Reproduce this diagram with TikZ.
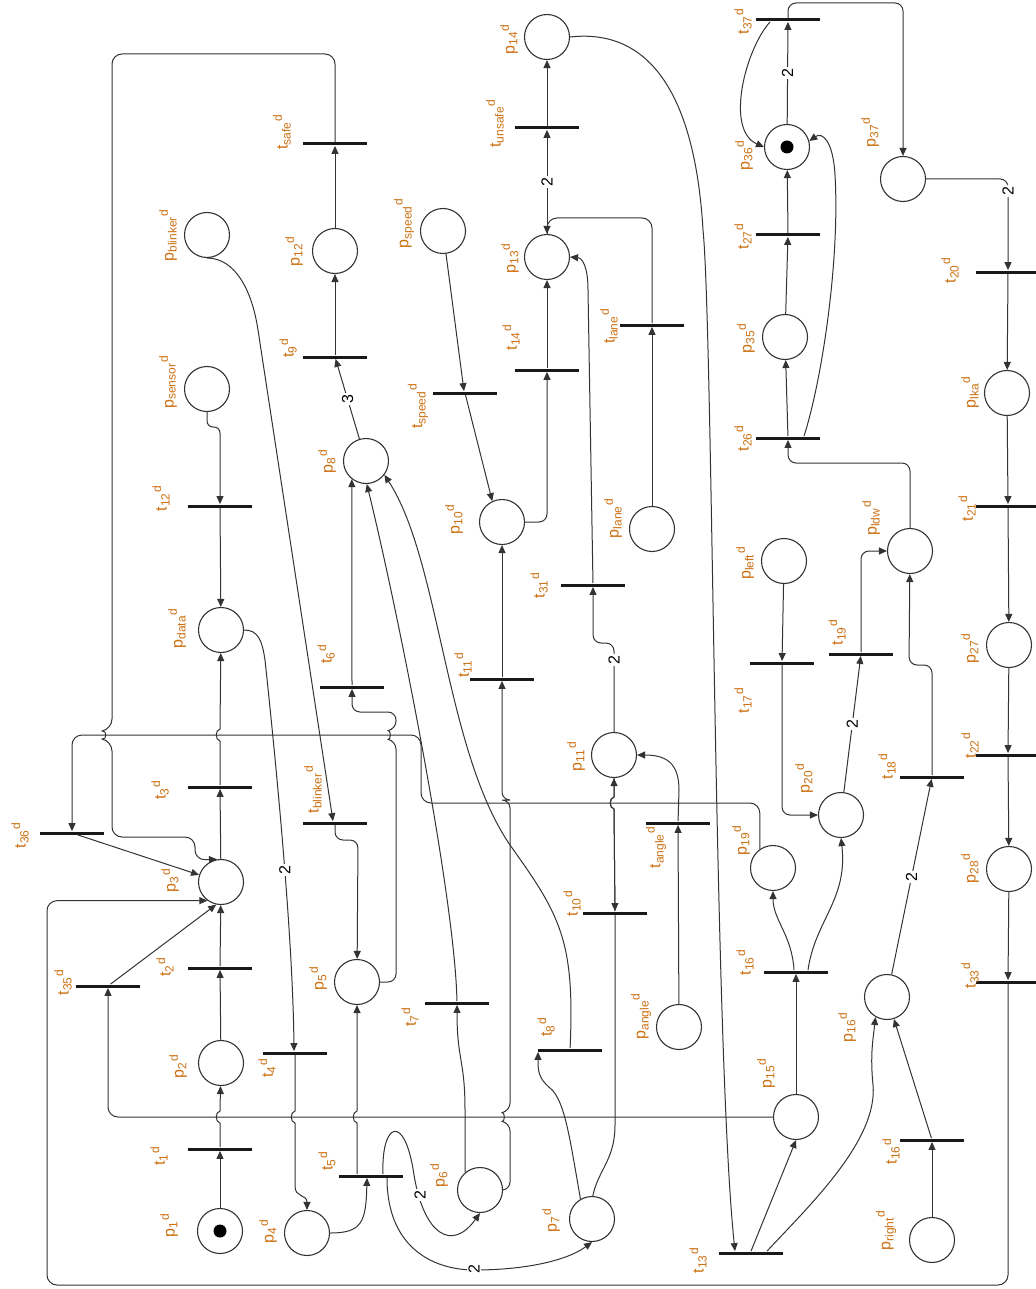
\documentclass[tikz,border=0pt]{standalone}
\usepackage{fontspec}
\setmainfont{Liberation Sans}
\usepackage{xcolor}
\usetikzlibrary{arrows.meta,positioning}
\definecolor{lblorange}{RGB}{204,112,18}
\newcommand{\pdl}[1]{p\textsubscript{#1}\textsuperscript{d}}
\newcommand{\tdl}[1]{t\textsubscript{#1}\textsuperscript{d}}

\begin{document}
\begin{tikzpicture}[x=0.5pt, y=-0.5pt,
	place/.style={circle, draw=black!80, line width=0.55pt, minimum size=22.5pt, inner sep=0pt},
	dot/.style={circle, fill=black, minimum size=6.5pt, inner sep=0pt},
	trans/.style={rectangle, fill=black!90, minimum width=32pt, minimum height=1.5pt, inner sep=0pt},
	lbl/.style={rotate=90, text=lblorange, inner sep=0pt, font=\fontsize{8}{9}\selectfont},
	wt/.style={rotate=90, fill=white, inner sep=0.8pt, font=\fontsize{8}{9}\selectfont},
	flow/.style={-{Triangle[length=4pt,width=3.5pt]}, line width=0.5pt, draw=black!80},
	plain/.style={line width=0.5pt, draw=black!80}
]
	\useasboundingbox (0,0) rectangle (1036,1289);

	% Places
	\node[place] (p1)       at (220,1231) {};
	\node[dot]   (tok1)     at (p1) {};
	\node[place] (p2)       at (221,1063) {};
	\node[place] (p3)       at (221,882)  {};
	\node[place] (pdata)    at (221,630)  {};
	\node[place] (psensor)  at (207,389)  {};
	\node[place] (pblinker) at (207,235)  {};
	\node[place] (p12)      at (335,251)  {};
	\node[place] (p8)       at (366,461)  {};
	\node[place] (p4)       at (307,1233) {};
	\node[place] (p5)       at (357,982)  {};
	\node[place] (p6)       at (480,1190) {};
	\node[place] (p7)       at (592,1219) {};
	\node[place] (p10)      at (502,522)  {};
	\node[place] (p13)      at (547,257)  {};
	\node[place] (p14)      at (547,37)   {};
	\node[place] (pspeed)   at (443,231)  {};
	\node[place] (plane)    at (652,529)  {};
	\node[place] (p11)      at (614,755)  {};
	\node[place] (pangle)   at (679,1027) {};
	\node[place] (p36)      at (787,147)  {};
	\node[dot]   (tok36)    at (p36) {};
	\node[place] (p35)      at (785,337)  {};
	\node[place] (pleft)    at (784,561)  {};
	\node[place] (pldw)     at (910,551)  {};
	\node[place] (p20)      at (841,815)  {};
	\node[place] (p19)      at (773,868)  {};
	\node[place] (p15)      at (796,1117) {};
	\node[place] (p16)      at (887,997)  {};
	\node[place] (pright)   at (932,1240) {};
	\node[place] (p37)      at (903,179)  {};
	\node[place] (plka)     at (1007,393) {};
	\node[place] (p27)      at (1009,645) {};
	\node[place] (p28)      at (1009,869) {};

	% Transitions
	\node[trans] (t1)       at (220,1149) {};
	\node[trans] (t2)       at (220,968)  {};
	\node[trans] (t3)       at (220,787)  {};
	\node[trans] (t12)      at (220,506)  {};
	\node[trans] (tsafe)    at (335,144)  {};
	\node[trans] (t9)       at (335,357)  {};
	\node[trans] (t4)       at (295,1053) {};
	\node[trans] (t5)       at (371,1176) {};
	\node[trans] (t6)       at (352,687)  {};
	\node[trans] (t7)       at (457,1003) {};
	\node[trans] (t8)       at (570,1050) {};
	\node[trans] (t10)      at (615,913)  {};
	\node[trans] (t11)      at (502,679)  {};
	\node[trans] (t14)      at (547,370)  {};
	\node[trans] (tspeed)   at (465,393)  {};
	\node[trans] (tlane)    at (652,325)  {};
	\node[trans] (tunsafe)  at (547,128)  {};
	\node[trans] (t31)      at (593,585)  {};
	\node[trans] (t13)      at (751,1253) {};
	\node[trans] (t16a)     at (796,972)  {};
	\node[trans] (t16b)     at (932,1140) {};
	\node[trans] (t17)      at (782,663)  {};
	\node[trans] (t19)      at (861,654)  {};
	\node[trans] (t18)      at (932,777)  {};
	\node[trans] (t26)      at (788,438)  {};
	\node[trans] (t27)      at (788,235)  {};
	\node[trans] (t37)      at (788,20)   {};
	\node[trans] (t20)      at (1008,272) {};
	\node[trans] (t21)      at (1008,506) {};
	\node[trans] (t22)      at (1008,755) {};
	\node[trans] (t33)      at (1008,982) {};
	\node[trans] (t35)      at (108,986)  {};
	\node[trans] (t36)      at (72,833)   {};
	\node[trans] (tblinker) at (335,823)  {};
	\node[trans] (tangle)   at (678,823)  {};

	% Labels of places
	\node[lbl] (lp1)       at (169,1225) {\pdl{1}};
	\node[lbl] (lp2)       at (178,1066) {\pdl{2}};
	\node[lbl] (lp3)       at (170,880)  {\pdl{3}};
	\node[lbl] (lpdata)    at (177,628)  {\pdl{data}};
	\node[lbl] (lpsensor)  at (168,382)  {\pdl{sensor}};
	\node[lbl] (lpblinker) at (168,235)  {\pdl{blinker}};
	\node[lbl] (lp12)      at (294,251)  {\pdl{12}};
	\node[lbl] (lp8)       at (327,461)  {\pdl{8}};
	\node[lbl] (lp4)       at (268,1231) {\pdl{4}};
	\node[lbl] (lp5)       at (318,978)  {\pdl{5}};
	\node[lbl] (lp6)       at (439,1175) {\pdl{6}};
	\node[lbl] (lp7)       at (551,1220) {\pdl{7}};
	\node[lbl] (lp10)      at (454,519)  {\pdl{10}};
	\node[lbl] (lp13)      at (510,258)  {\pdl{13}};
	\node[lbl] (lp14)      at (509,39)   {\pdl{14}};
	\node[lbl] (lpspeed)   at (404,223)  {\pdl{speed}};
	\node[lbl] (lplane)    at (613,518)  {\pdl{lane}};
	\node[lbl] (lp11)      at (576,756)  {\pdl{11}};
	\node[lbl] (lpangle)   at (641,1016) {\pdl{angle}};
	\node[lbl] (lp36)      at (744,155)  {\pdl{36}};
	\node[lbl] (lp35)      at (746,338)  {\pdl{35}};
	\node[lbl] (lpleft)    at (745,563)  {\pdl{left}};
	\node[lbl] (lpldw)     at (871,518)  {\pdl{ldw}};
	\node[lbl] (lp20)      at (804,778)  {\pdl{20}};
	\node[lbl] (lp19)      at (741,840)  {\pdl{19}};
	\node[lbl] (lp15)      at (766,1073) {\pdl{15}};
	\node[lbl] (lp16)      at (847,1027) {\pdl{16}};
	\node[lbl] (lpright)   at (886,1230) {\pdl{right}};
	\node[lbl] (lp37)      at (870,132)  {\pdl{37}};
	\node[lbl] (lplka)     at (970,392)  {\pdl{lka}};
	\node[lbl] (lp27)      at (970,648)  {\pdl{27}};
	\node[lbl] (lp28)      at (970,868)  {\pdl{28}};

	% Labels of transitions
	\node[lbl] (lt1)       at (159,1156) {\tdl{1}};
	\node[lbl] (lt2)       at (165,967)  {\tdl{2}};
	\node[lbl] (lt3)       at (160,790)  {\tdl{3}};
	\node[lbl] (lt12)      at (161,498)  {\tdl{12}};
	\node[lbl] (ltsafe)    at (282,132)  {\tdl{safe}};
	\node[lbl] (lt9)       at (288,348)  {\tdl{9}};
	\node[lbl] (lt4)       at (267,1068) {\tdl{4}};
	\node[lbl] (lt5)       at (327,1161) {\tdl{5}};
	\node[lbl] (lt6)       at (326,654)  {\tdl{6}};
	\node[lbl] (lt7)       at (410,1017) {\tdl{7}};
	\node[lbl] (lt8)       at (546,1027) {\tdl{8}};
	\node[lbl] (lt10)      at (572,903)  {\tdl{10}};
	\node[lbl] (lt11)      at (463,665)  {\tdl{11}};
	\node[lbl] (lt14)      at (511,337)  {\tdl{14}};
	\node[lbl] (ltspeed)   at (418,406)  {\tdl{speed}};
	\node[lbl] (ltlane)    at (609,326)  {\tdl{lane}};
	\node[lbl] (ltunsafe)  at (495,123)  {\tdl{unsafe}};
	\node[lbl] (lt31)      at (539,585)  {\tdl{31}};
	\node[lbl] (lt13)      at (698,1260) {\tdl{13}};
	\node[lbl] (lt16a)     at (745,962)  {\tdl{16}};
	\node[lbl] (lt16b)     at (891,1151) {\tdl{16}};
	\node[lbl] (lt17)      at (743,700)  {\tdl{17}};
	\node[lbl] (lt19)      at (837,632)  {\tdl{19}};
	\node[lbl] (lt18)      at (887,766)  {\tdl{18}};
	\node[lbl] (lt26)      at (743,438)  {\tdl{26}};
	\node[lbl] (lt27)      at (743,236)  {\tdl{27}};
	\node[lbl] (lt37)      at (743,21)   {\tdl{37}};
	\node[lbl] (lt20)      at (950,270)  {\tdl{20}};
	\node[lbl] (lt21)      at (967,508)  {\tdl{21}};
	\node[lbl] (lt22)      at (970,745)  {\tdl{22}};
	\node[lbl] (lt33)      at (970,975)  {\tdl{33}};
	\node[lbl] (lt35)      at (63,982)   {\tdl{35}};
	\node[lbl] (lt36)      at (20,835)   {\tdl{36}};
	\node[lbl] (ltblinker) at (313,789)  {\tdl{blinker}};
	\node[lbl] (ltangle)   at (656,847)  {\tdl{angle}};

	% Left column
	\draw[flow] (p1) -- (t1);
	\draw[flow] (t1) -- (220,1123) .. controls (215,1122) and (215,1112) .. (220,1111) -- (p2);
	\draw[flow] (p2) -- (t2);
	\draw[flow] (t2) -- (p3);
	\draw[flow] (p3) -- (t3);
	\draw[flow] (t3) -- (220,741) .. controls (215,740) and (215,730) .. (220,729) -- (pdata);
	\draw[flow, rounded corners=3pt] (psensor.south) |- (220,427) -- (t12);
	\draw[flow] (t12) -- (pdata);
	\draw[flow] (pblinker.south) .. controls (235,258) and (252,290) .. (258,330) -- ([xshift=-1pt]tblinker.north);
	\draw[flow, rounded corners=4pt] (tblinker) |- (358,840) -- (p5);
	\draw[flow] (p12) -- (tsafe);
	\draw[flow, rounded corners=5pt] (tsafe) |- (112,54) -- (112,729)
		.. controls (107,730) and (107,740) .. (112,741) -- (112,837) -| (195,860) -- (p3.100);
	\draw[flow] (t9) -- (p12);
	\draw[flow] (p8) -- node[wt] {3} (t9);
	\draw[flow] (pdata.east) .. controls (258,630) and (262,640) .. (265,660)
		.. controls (280,800) and (293,950) .. node[wt, pos=0.5] {2} ([xshift=-0.5pt]t4.north);
	\draw[flow] (t4) -- (295,1111) .. controls (290,1112) and (290,1122) .. (295,1123)
		-- (295,1186) .. controls (295,1198) and (307,1194) .. (p4.north);

	% Around t5
	\draw[flow] (p4.east) .. controls (362,1233) and (366,1222) .. ([xshift=-2pt]t5.south);
	\draw[flow] ([xshift=-7pt]t5.north) -- (357,1123) .. controls (352,1122) and (352,1112) .. (357,1111) -- (p5);
	\draw[flow] ([xshift=6pt]t5.north) .. controls (381,1122) and (405,1112) .. (414,1175)
		.. controls (424,1235) and (452,1252) .. (p6.south) node[wt] at (420,1195) {2};
	\draw[flow] ([xshift=8pt]t5.south) .. controls (387,1245) and (430,1270) .. (475,1270)
		.. controls (520,1270) and (565,1262) .. (p7.south) node[wt] at (474,1269) {2};

	% Into p8
	\draw[flow, rounded corners=4pt] (p5.east) -| (396,741)
		.. controls (391,740) and (391,730) .. (396,729) -- (396,712) -| (t6);
	\draw[flow] (t6) -- (p8.232);
	\draw[flow] (p6.130) -- (465,1110) .. controls (465,1060) and (457,1060) .. (t7);
	\draw[flow] (t7) .. controls (455,900) and (400,620) .. (p8.-88);
	\draw[flow] (p7.120) .. controls (570,1140) and (565,1100) .. (550,1088)
		.. controls (538,1078) and (538,1070) .. ([xshift=-16pt]t8.south);
	\draw[flow] (t8) .. controls (575,940) and (560,915) .. (510,845)
		.. controls (445,750) and (440,560) .. (p8.-37);

	% p10, p11, p13
	\draw[flow, rounded corners=4pt] (p6.east) -| (510,1123)
		.. controls (505,1122) and (505,1112) .. (510,1111) -- (510,800) -| (t11);
	\draw[flow] (t11) -- (p10);
	\draw[flow] (pspeed) -- ([xshift=-0.5pt]tspeed.north);
	\draw[flow] (tspeed) -- (p10.115);
	\draw[flow, rounded corners=4pt] (p10.east) -| (t14);
	\draw[flow] (t14) -- (p13);
	\draw[flow] (plane) -- (tlane);
	\draw[flow, rounded corners=5pt] (tlane) |- (547,218) -- (p13);
	\draw[plain] (p7.88) .. controls (598,1170) and (615,1160) .. (615,1125) -- (t10);
	\draw[flow] (p11) -- (614,797) .. controls (609,798) and (609,808) .. (614,809) -- (t10);
	\draw[flow] (t10) -- (614,809) .. controls (609,808) and (609,798) .. (614,797) -- (p11);
	\draw[flow] (pangle) -- (tangle);
	\draw[flow] (tangle) -- (679,790) .. controls (679,762) and (665,755) .. (p11.east);
	\draw[flow, rounded corners=4pt] (p11) |- (593,643) -- (t31) node[wt] at (614,660) {2};
	\draw[flow] (t31) -- (588,290) .. controls (588,266) and (582,258) .. (p13.east);
	\draw[flow] (p13) -- node[wt] {2} (tunsafe);
	\draw[flow] (tunsafe) -- (p14);
	\draw[flow] (p14.east) .. controls (650,28) and (695,95) .. (703,230)
		.. controls (713,330) and (714,1050) .. ([xshift=-8pt]t13.north);

	% Lower right
	\draw[flow] (t13.north) -- (p15.south);
	\draw[flow] ([xshift=8pt]t13.north) .. controls (810,1205) and (878,1140) .. (873,1085)
		.. controls (870,1055) and (873,1040) .. (p16.240);
	\draw[flow] (p15) -- (t16a);
	\draw[flow] ([xshift=-1pt]t16a.north) .. controls (792,935) and (773,920) .. (p19.south);
	\draw[flow] ([xshift=6pt]t16a.north) .. controls (815,920) and (848,900) .. (p20.south);
	\draw[flow] (pright) -- (t16b);
	\draw[flow] (t16b) -- (p16);
	\draw[flow] (p16) -- node[wt] {2} (t18);
	\draw[flow, rounded corners=4pt] (t18) |- (909,665) -- (pldw);
	\draw[flow] (pleft) -- (t17);
	\draw[flow, rounded corners=4pt] (t17) |- (p20);
	\draw[flow] (p20) -- node[wt] {2} (t19);
	\draw[flow, rounded corners=4pt] (t19) |- (pldw);

	% p35, p36, p37
	\draw[flow, rounded corners=4pt] (pldw) -- (910,463) -| (t26);
	\draw[flow] (t26) -- (p35);
	\draw[flow] ([xshift=8pt]t26.north) .. controls (822,380) and (840,260) .. (835,175)
		.. controls (833,140) and (822,132) .. (p36.15);
	\draw[flow] (p35) -- (t27);
	\draw[flow] (t27) -- (p36);
	\draw[flow] (p36) -- node[wt] {2} (t37);
	\draw[flow] ([xshift=-9pt]t37.south) .. controls (745,50) and (725,130) .. (p36.west);
	\draw[flow, rounded corners=4pt] (t37) |- (903,3) -- (p37);
	\draw[flow, rounded corners=4pt] (p37) -| (t20) node[wt] at (1008,191) {2};
	\draw[flow] (t20) -- (plka);
	\draw[flow] (plka) -- (t21);
	\draw[flow] (t21) -- (p27);
	\draw[flow] (p27) -- (t22);
	\draw[flow] (t22) -- (p28);
	\draw[flow] (p28) -- (t33);

	% Back to p3
	\draw[flow, rounded corners=5pt] (t33) |- (47,1285) |- (p3.234);
	\draw[flow, rounded corners=5pt] (p15) -| (t35);
	\draw[flow] (t35) -- (p3.258);
	\draw[flow, rounded corners=5pt] (p19.125) |- (421,803) |- (72,735) -- (t36);
	\draw[flow] (t36) -- (p3.162);
\end{tikzpicture}
\end{document}
